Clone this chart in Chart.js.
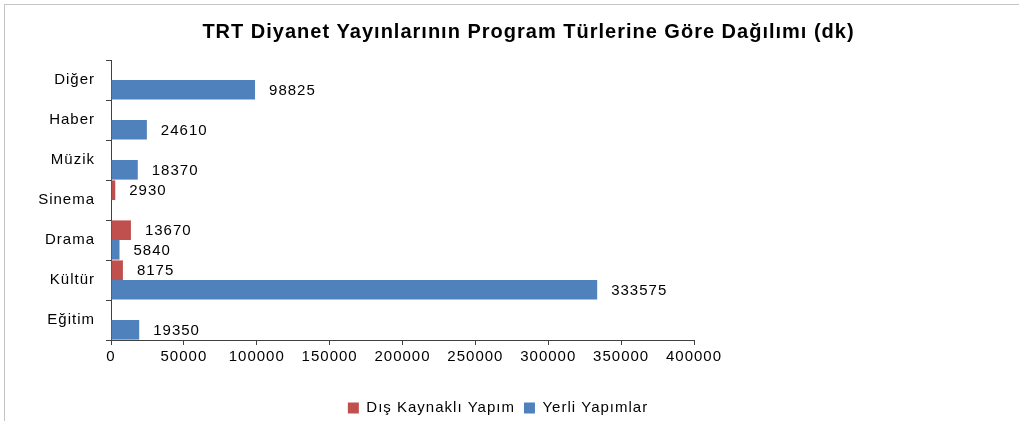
<!DOCTYPE html>
<html>
<head>
<meta charset="utf-8">
<script src="https://cdn.jsdelivr.net/npm/chart.js@4.4.0/dist/chart.umd.min.js"></script>
<style>
html,body{margin:0;padding:0;background:#fff;}
#wrap{position:relative;width:1019px;height:421px;overflow:hidden;background:#fff;}
#frame{position:absolute;left:4px;top:4px;width:1100px;height:500px;border-left:1px solid #c4c4c4;border-top:1px solid #c4c4c4;}
canvas{position:absolute;left:0;top:0;}
</style>
</head>
<body>
<div id="wrap"><div id="frame"></div><canvas id="c" width="1019" height="421"></canvas></div>
<script>
const categories = ['Diğer', 'Haber', 'Müzik', 'Sinema', 'Drama', 'Kültür', 'Eğitim'];
const disKaynakliYapim = [null, null, null, 2930, 13670, 8175, null];
const yerliYapimlar = [98825, 24610, 18370, null, 5840, 333575, 19350];
const seriesNames = ['Dış Kaynaklı Yapım', 'Yerli Yapımlar'];
const xMin = 0, xMax = 400000, xStep = 50000;
const titleText = 'TRT Diyanet Yayınlarının Program Türlerine Göre Dağılımı (dk)';

const FONT = '"Liberation Sans", Arial, sans-serif';

const layoutFix = {
  id: 'layoutFix',
  beforeUpdate(chart) { chart.ctx.letterSpacing = '1px'; },
  beforeDraw(chart) { chart.ctx.letterSpacing = '1px'; },
  afterLayout(chart) {
    const t = chart.titleBlock;
    if (t) { const dx = 528.5 - (t.left + t.right) / 2; t.left += dx; t.right += dx; }
    const l = chart.legend;
    if (l) {
      const dxl = 498 - (l.left + l.right) / 2; l.left += dxl; l.right += dxl;
      const dy = 408 - (l.top + 9 + 7.5); l.top += dy; l.bottom += dy;
    }
  }
};

const valueLabels = {
  id: 'valueLabels',
  afterDatasetsDraw(chart) {
    const ctx = chart.ctx;
    ctx.save();
    ctx.letterSpacing = '1px';
    ctx.font = '15px ' + FONT;
    ctx.fillStyle = '#000';
    ctx.textAlign = 'left';
    ctx.textBaseline = 'middle';
    chart.data.datasets.forEach((ds, i) => {
      const meta = chart.getDatasetMeta(i);
      meta.data.forEach((el, j) => {
        const v = ds.data[j];
        if (v == null || !v) return;
        ctx.fillText(String(v), el.x + 14, el.y + 1);
      });
    });
    ctx.restore();
  }
};

new Chart(document.getElementById('c'), {
  type: 'bar',
  data: {
    labels: categories,
    datasets: [
      { label: seriesNames[0], data: disKaynakliYapim, backgroundColor: '#C0504D', borderWidth: 0 },
      { label: seriesNames[1], data: yerliYapimlar, backgroundColor: '#4F81BD', borderWidth: 0 }
    ]
  },
  options: {
    indexAxis: 'y',
    responsive: false,
    animation: false,
    devicePixelRatio: 1,
    categoryPercentage: 0.98,
    barPercentage: 1,
    layout: { padding: { left: 0, right: 325, top: 0, bottom: 0 } },
    plugins: {
      title: {
        display: true,
        text: titleText,
        color: '#000',
        font: { family: FONT, size: 20, weight: 'bold' },
        padding: { top: 20, bottom: 16 }
      },
      legend: {
        position: 'bottom',
        labels: {
          boxWidth: 11, boxHeight: 11, padding: 9, color: '#000',
          font: { family: FONT, size: 15 }
        }
      },
      tooltip: { enabled: false }
    },
    scales: {
      x: {
        type: 'linear',
        min: xMin, max: xMax,
        ticks: {
          stepSize: xStep, color: '#000', padding: 3,
          font: { family: FONT, size: 15 },
          callback: v => String(v)
        },
        grid: { drawOnChartArea: false, drawTicks: true, tickLength: 5, color: '#404040' },
        border: { color: '#404040', width: 1 },
        afterFit(s) { s.height = 47; s.paddingLeft = 0; s.paddingRight = 0; }
      },
      y: {
        type: 'category',
        ticks: { color: '#000', padding: 11, font: { family: FONT, size: 15 } },
        grid: { offset: true, drawOnChartArea: false, drawTicks: true, tickLength: 5, color: '#404040' },
        border: { color: '#404040', width: 1 },
        afterFit(s) { s.width = 111; s.paddingTop = 0; s.paddingBottom = 0; }
      }
    }
  },
  plugins: [layoutFix, valueLabels]
});
</script>
</body>
</html>
